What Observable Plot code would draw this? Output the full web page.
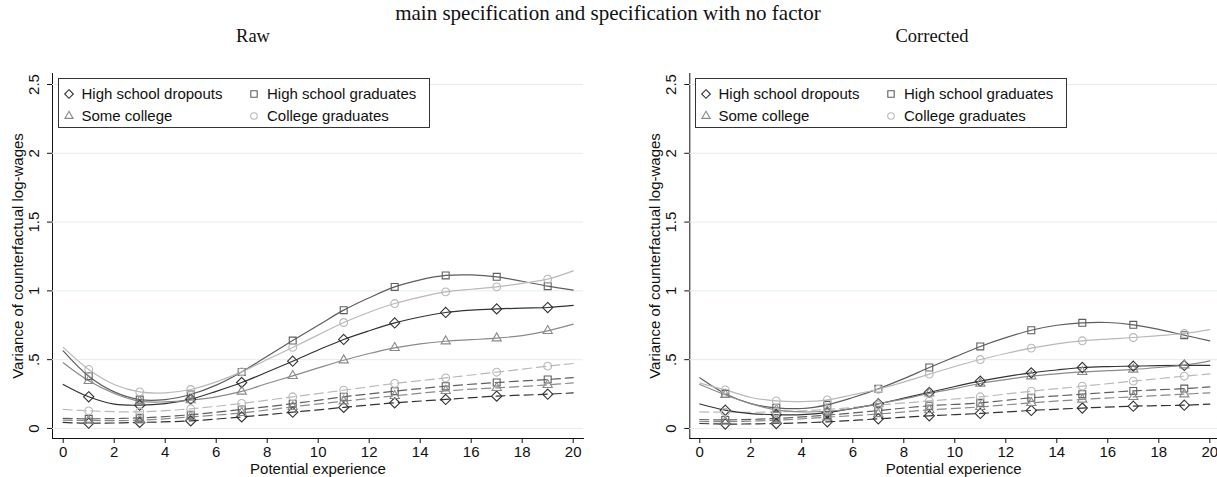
<!DOCTYPE html>
<html>
<head>
<meta charset="utf-8">
<script src="https://cdn.jsdelivr.net/npm/d3@7"></script>
<script src="https://cdn.jsdelivr.net/npm/@observablehq/plot@0.6"></script>
<style>
  body { margin: 0; background: #fff; }
  #root { position: relative; width: 1217px; height: 477px; overflow: hidden; background: #fff;
          font-family: "Liberation Sans", Arial, sans-serif; }
  .svgwrap { position: absolute; top: 0; }
  .ttl { position: absolute; white-space: nowrap; transform: translateX(-50%);
         font-family: "Liberation Serif", "Times New Roman", serif; color: #111; }
  .legend { position: absolute; top: 78px; width: 370px; height: 48px; border: 1px solid #333;
            background: #fff; font-size: 15px; color: #111; }
  .item { position: absolute; white-space: nowrap; line-height: 18px; }
  .sym { position: absolute; }
</style>
</head>
<body>
<div id="root"></div>
<script>
// ---------- data ----------
const groups = ["High school dropouts", "High school graduates", "Some college", "College graduates"];
const xSolid = [0,1,2,3,4,5,6,7,8,9,10,11,12,13,14,15,16,17,18,19,20];
const xDash  = [0,1,3,5,7,9,11,13,15,17,19,20];
const yTicks = [0, 0.5, 1, 1.5, 2, 2.5];
const yTickLabels = ["0", ".5", "1", "1.5", "2", "2.5"];
const xTicks = [0,2,4,6,8,10,12,14,16,18,20];

// Raw panel, main specification (solid)
const rawSolidDropouts = [0.32,0.23,0.177,0.169,0.18,0.213,0.27,0.334,0.41,0.489,0.57,0.647,0.71,0.767,0.81,0.843,0.86,0.869,0.875,0.879,0.894];
const rawSolidHSGrad   = [0.564,0.38,0.266,0.21,0.21,0.247,0.315,0.411,0.525,0.639,0.75,0.86,0.95,1.029,1.08,1.112,1.116,1.102,1.07,1.034,1.005];
const rawSolidSomeCol  = [0.477,0.346,0.254,0.198,0.193,0.206,0.23,0.269,0.327,0.382,0.44,0.496,0.545,0.586,0.615,0.634,0.645,0.656,0.675,0.709,0.758];
const rawSolidColGrad  = [0.589,0.429,0.32,0.266,0.259,0.283,0.339,0.411,0.501,0.589,0.68,0.77,0.845,0.908,0.955,0.993,1.012,1.029,1.055,1.085,1.145];
// Raw panel, specification with no factor (dashed)
const rawDashDropouts = [0.044,0.038,0.044,0.055,0.084,0.118,0.153,0.186,0.211,0.235,0.249,0.259];
const rawDashHSGrad   = [0.073,0.07,0.077,0.10,0.138,0.18,0.23,0.271,0.307,0.334,0.356,0.37];
const rawDashSomeCol  = [0.06,0.058,0.06,0.084,0.113,0.157,0.198,0.237,0.273,0.295,0.317,0.331];
const rawDashColGrad  = [0.138,0.128,0.121,0.143,0.182,0.23,0.278,0.327,0.368,0.409,0.453,0.472];

// Corrected panel, main specification (solid)
const corSolidDropouts = [0.178,0.133,0.108,0.1,0.1,0.115,0.145,0.179,0.22,0.262,0.305,0.344,0.377,0.404,0.425,0.443,0.45,0.453,0.456,0.458,0.458];
const corSolidHSGrad   = [0.368,0.252,0.18,0.15,0.145,0.172,0.225,0.288,0.362,0.443,0.52,0.596,0.66,0.714,0.75,0.768,0.77,0.753,0.72,0.678,0.637];
const corSolidSomeCol  = [0.32,0.245,0.18,0.135,0.12,0.125,0.145,0.18,0.215,0.255,0.29,0.327,0.355,0.38,0.397,0.411,0.42,0.429,0.443,0.46,0.491];
const corSolidColGrad  = [0.33,0.28,0.225,0.2,0.195,0.208,0.245,0.285,0.337,0.395,0.45,0.501,0.545,0.584,0.615,0.637,0.65,0.661,0.675,0.69,0.719];
// Corrected panel, no factor (dashed)
const corDashDropouts = [0.036,0.032,0.036,0.048,0.07,0.092,0.109,0.131,0.148,0.162,0.169,0.177];
const corDashHSGrad   = [0.065,0.062,0.073,0.097,0.13,0.165,0.186,0.223,0.249,0.273,0.29,0.302];
const corDashSomeCol  = [0.051,0.05,0.06,0.082,0.105,0.135,0.157,0.186,0.211,0.23,0.249,0.259];
const corDashColGrad  = [0.12,0.118,0.12,0.138,0.17,0.2,0.23,0.271,0.307,0.344,0.38,0.397];

// ---------- styles ----------
const colors  = ["#333333", "#5e5e5e", "#8a8a8a", "#b9b9b9"];
const symbols = ["diamond2", "square2", "triangle2", "circle"];
const markerR = [4.6, 4.4, 4.4, 3.9];

function rows(xs, series) {
  const out = [];
  series.forEach((vals, gi) => vals.forEach((v, i) => out.push({x: xs[i], y: v, group: groups[gi]})));
  return out;
}

function panel({solid, dashed, width, marginLeft, marginRight, xDomain}) {
  const solidRows = rows(xSolid, solid);
  const dashRows = rows(xDash, dashed);
  const markRows = solidRows.concat(dashRows).filter(d => d.x % 2 === 1);
  const dotMarks = groups.map((g, gi) => Plot.dot(markRows.filter(d => d.group === g), {
    x: "x", y: "y", symbol: "group", stroke: "group", fill: "none", r: markerR[gi], strokeWidth: 1.1
  }));
  return Plot.plot({
    width, height: 477,
    marginLeft, marginRight, marginTop: 73, marginBottom: 39,
    style: {fontFamily: "'Liberation Sans', Arial, sans-serif", fontSize: "15px", color: "#111", background: "transparent", overflow: "visible"},
    x: {domain: xDomain, ticks: xTicks, tickSize: 5, tickPadding: 3, line: true, label: "Potential experience",
        labelAnchor: "center", labelOffset: 35, labelArrow: "none", tickFormat: d => String(d)},
    y: {domain: [-0.073, 2.58], ticks: yTicks, tickSize: 5, tickRotate: -90, tickPadding: 9, line: true,
        tickFormat: d => yTickLabels[yTicks.indexOf(d)], labelArrow: "none",
        label: "Variance of counterfactual log-wages", labelAnchor: "center", labelOffset: 40},
    color: {domain: groups, range: colors},
    symbol: {domain: groups, range: symbols},
    marks: [
      Plot.gridY(yTicks, {stroke: "#e3edef", strokeOpacity: 1, strokeWidth: 1}),
      Plot.line(dashRows, {x: "x", y: "y", z: "group", stroke: "group", curve: "catmull-rom",
                            strokeWidth: 1.2, strokeDasharray: "9,5"}),
      Plot.line(solidRows, {x: "x", y: "y", z: "group", stroke: "group", curve: "catmull-rom", strokeWidth: 1.2}),
      ...dotMarks
    ]
  });
}

const root = document.getElementById("root");

function place(el, left) {
  const w = document.createElement("div");
  w.className = "svgwrap";
  w.style.left = left + "px";
  w.appendChild(el);
  root.appendChild(w);
}

place(panel({solid: [rawSolidDropouts, rawSolidHSGrad, rawSolidSomeCol, rawSolidColGrad],
             dashed: [rawDashDropouts, rawDashHSGrad, rawDashSomeCol, rawDashColGrad],
             width: 608, marginLeft: 52, marginRight: 25, xDomain: [-0.42, 20.404]}), 0);
place(panel({solid: [corSolidDropouts, corSolidHSGrad, corSolidSomeCol, corSolidColGrad],
             dashed: [corDashDropouts, corDashHSGrad, corDashSomeCol, corDashColGrad],
             width: 609, marginLeft: 81.3, marginRight: 0, xDomain: [-0.392, 20.302]}), 608);

// titles
function title(text, cx, top, size) {
  const d = document.createElement("div");
  d.className = "ttl";
  d.textContent = text;
  d.style.left = cx + "px";
  d.style.top = top + "px";
  d.style.fontSize = size + "px";
  d.style.lineHeight = size + "px";
  root.appendChild(d);
}
title("main specification and specification with no factor", 608, 3, 21);
title("Raw", 253, 27, 18.5);
title("Corrected", 932, 27, 18.5);

// legends
function symbolSvg(gi) {
  const ns = "http://www.w3.org/2000/svg";
  const svg = document.createElementNS(ns, "svg");
  svg.setAttribute("width", 14); svg.setAttribute("height", 14);
  const p = document.createElementNS(ns, "path");
  const sym = {diamond2: d3.symbolDiamond2, square2: d3.symbolSquare2, triangle2: d3.symbolTriangle2, circle: d3.symbolCircle}[symbols[gi]];
  const sizes = [48, 52, 48, 34];
  p.setAttribute("d", d3.symbol(sym, sizes[gi])());
  p.setAttribute("transform", "translate(7,7)");
  p.setAttribute("fill", "none");
  p.setAttribute("stroke", colors[gi]);
  p.setAttribute("stroke-width", 1.1);
  svg.appendChild(p);
  return svg;
}
function legend(left) {
  const box = document.createElement("div");
  box.className = "legend";
  box.style.left = left + "px";
  const symX = [10, 195], textX = [22.5, 208], rowY = [15, 36.5];
  groups.forEach((g, gi) => {
    const col = gi % 2, row = Math.floor(gi / 2);
    const s = symbolSvg(gi);
    s.classList.add("sym");
    s.style.left = (symX[col] - 7) + "px";
    s.style.top = (rowY[row] - 7) + "px";
    box.appendChild(s);
    const t = document.createElement("div");
    t.className = "item";
    t.textContent = g;
    t.style.left = textX[col] + "px";
    t.style.top = (rowY[row] - 9) + "px";
    box.appendChild(t);
  });
  root.appendChild(box);
}
legend(58);
legend(695);
</script>
</body>
</html>
